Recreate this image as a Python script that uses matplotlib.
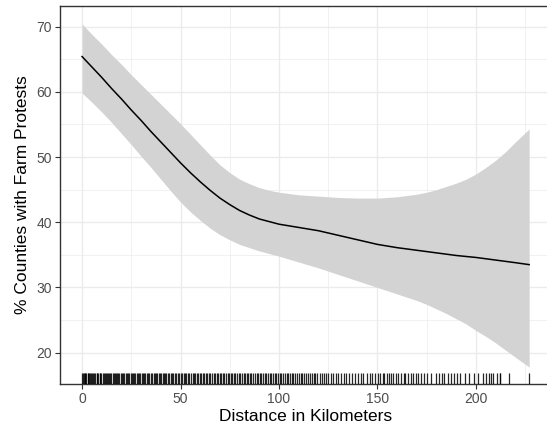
import matplotlib
matplotlib.use("Agg")
import matplotlib.pyplot as plt
from matplotlib.ticker import MultipleLocator

# Smoothed share of counties with farm protests by distance (km)
dist_km = [0, 5, 10, 15, 20, 25, 30, 35, 40, 45, 50, 55, 60, 65, 70, 75, 80, 85, 90, 95,
           100, 105, 110, 115, 120, 125, 130, 135, 140, 145, 150, 155, 160, 165, 170,
           175, 180, 185, 190, 195, 200, 205, 210, 215, 220, 227]
fit_pct = [65.4, 63.8, 62.2, 60.5, 58.9, 57.2, 55.6, 53.9, 52.3, 50.7, 49.1, 47.6, 46.2,
           44.9, 43.7, 42.7, 41.8, 41.1, 40.5, 40.1, 39.7, 39.45, 39.2, 38.95, 38.7,
           38.35, 38.0, 37.65, 37.3, 36.95, 36.6, 36.35, 36.1, 35.9, 35.7, 35.5, 35.3,
           35.1, 34.9, 34.75, 34.6, 34.4, 34.2, 34.0, 33.8, 33.5]
upper_pct = [70.4, 68.8, 67.3, 65.7, 64.2, 62.6, 61.1, 59.6, 58.1, 56.6, 55.1, 53.5, 51.9,
             50.3, 48.8, 47.6, 46.6, 45.9, 45.3, 44.9, 44.6, 44.4, 44.2, 44.1, 44.0,
             43.9, 43.8, 43.75, 43.7, 43.7, 43.7, 43.8, 43.9, 44.1, 44.3, 44.6, 45.0,
             45.5, 46.0, 46.6, 47.4, 48.4, 49.5, 50.8, 52.3, 54.3]
lower_pct = [59.8, 58.4, 56.9, 55.3, 53.6, 51.9, 50.1, 48.4, 46.6, 44.8, 43.1, 41.6, 40.3,
             39.1, 38.1, 37.3, 36.6, 36.1, 35.6, 35.2, 34.8, 34.35, 33.9, 33.45, 33.0,
             32.5, 32.0, 31.5, 31.0, 30.5, 30.0, 29.5, 29.0, 28.5, 28.0, 27.4, 26.7,
             26.0, 25.2, 24.4, 23.4, 22.5, 21.5, 20.4, 19.3, 17.8]

# Observed county distances shown as a rug
county_km = [
    0.0, 0.4, 0.9, 1.3, 1.6, 2.2, 2.8, 3.1, 3.5, 4.2, 4.6, 5.3, 5.7, 6.1, 6.8, 7.4, 7.7,
    8.3, 8.9, 9.2, 9.8, 10.5, 10.9, 11.6, 12.0, 12.7, 13.3, 13.6, 14.4, 14.9, 15.5, 16.2,
    16.6, 17.3, 17.9, 18.4, 19.0, 19.6,
    20.3, 20.8, 21.5, 22.1, 22.6, 23.4, 23.9, 24.7, 25.2, 25.8, 26.5, 27.1, 27.8, 28.2,
    29.0, 29.6, 30.4, 30.9, 31.7, 32.2, 33.0, 33.6, 34.1, 34.9, 35.5, 36.3, 36.8, 37.6,
    38.1, 38.9, 39.5,
    40.2, 40.9, 41.4, 42.3, 42.8, 43.6, 44.2, 45.1, 45.7, 46.4, 47.2, 47.8, 48.7, 49.3,
    50.1, 50.8, 51.6, 52.3, 52.9, 53.8, 54.5, 55.2, 56.1, 56.7, 57.5, 58.3, 58.9, 59.8,
    60.5, 61.2, 62.0, 62.9, 63.5, 64.4, 65.1, 65.9, 66.8, 67.4, 68.3, 69.1, 69.8, 70.7,
    71.5, 72.2, 73.0, 73.9, 74.6, 75.5, 76.2, 77.1, 77.9, 78.6, 79.5,
    80.3, 81.1, 82.0, 82.8, 83.5, 84.5, 85.2, 86.0, 86.9, 87.7, 88.6, 89.3, 90.2, 91.1,
    91.8, 92.7, 93.6, 94.3, 95.2, 96.0, 96.9, 97.8, 98.5, 99.4,
    100.3, 101.2, 102.0, 102.9, 103.8, 104.6, 105.5, 106.5, 107.3, 108.2, 109.1, 110.0,
    111.0, 111.9, 112.7, 113.8, 114.6, 115.5, 116.5, 117.6, 118.4, 119.5,
    120.6, 121.7, 122.9, 124.1, 125.0, 126.4, 127.5, 128.9, 130.2, 131.3, 132.8, 134.0,
    135.6, 137.1, 138.4, 139.9, 141.5, 142.8, 144.6, 146.1, 147.3, 148.9,
    150.4, 151.3, 152.6, 153.5, 154.8, 155.7, 156.9, 158.0, 159.2, 160.5, 161.8, 163.4,
    164.2, 165.5, 166.9, 168.1, 169.7, 170.6, 172.2, 173.8, 175.1, 177.4, 179.6,
    181.2, 182.5, 184.0, 185.7, 187.3, 188.6, 190.4, 192.1, 194.3, 196.5, 198.8, 201.0,
    203.6, 205.0, 206.6, 207.6, 208.6, 210.6, 212.0, 212.3, 216.8, 227.0,
]

plt.rcParams["font.family"] = ["Liberation Sans", "DejaVu Sans"]

W, H = 547, 432
fig = plt.figure(figsize=(W / 100, H / 100), dpi=100)
# panel runs slightly past the right edge of the canvas
ax = fig.add_axes([60 / W, 48 / H, 492 / W, 378 / H])

ax.fill_between(dist_km, lower_pct, upper_pct, color="#d3d3d3", lw=0, zorder=2)
ax.plot(dist_km, fit_pct, color="black", lw=1.1, zorder=3)
ax.vlines(county_km, 0, 0.03, transform=ax.get_xaxis_transform(),
          color="black", lw=0.9, alpha=0.85, zorder=4)

ax.set_xlim(-11.2, 238.6)
ax.set_ylim(15.2, 73.15)
ax.xaxis.set_major_locator(MultipleLocator(50))
ax.xaxis.set_minor_locator(MultipleLocator(25))
ax.yaxis.set_major_locator(MultipleLocator(10))
ax.yaxis.set_minor_locator(MultipleLocator(5))

ax.grid(which="major", color="#ebebeb", lw=1.0, zorder=0)
ax.grid(which="minor", color="#ebebeb", lw=0.5, zorder=0)
ax.set_axisbelow(True)
for side in ax.spines.values():
    side.set_color("#333333")
    side.set_linewidth(1.0)

ax.tick_params(which="major", length=3.5, width=0.8, color="#333333",
               labelsize=10, labelcolor="#4d4d4d", pad=2.5)
ax.tick_params(which="minor", length=0)

ax.set_xlabel("Distance in Kilometers", fontsize=12.5, labelpad=2)
ax.set_ylabel("% Counties with Farm Protests", fontsize=12.5, labelpad=4)

fig.savefig("out.png", dpi=100)
